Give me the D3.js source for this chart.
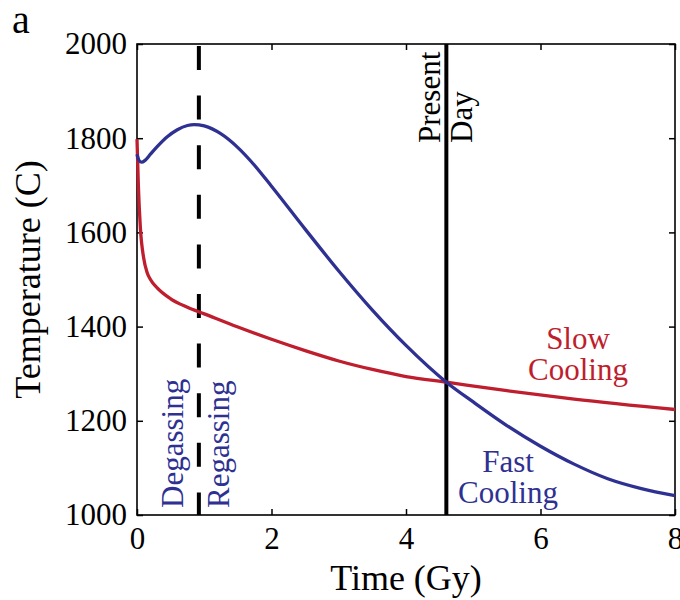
<!DOCTYPE html>
<html>
<head>
<meta charset="utf-8">
<script src="https://cdn.jsdelivr.net/npm/d3@7"></script>
<style>
  html, body { margin: 0; padding: 0; background: #fff; }
  svg { display: block; }
  text { font-family: "Liberation Serif", "Times New Roman", serif; }
</style>
</head>
<body>
<svg id="chart" width="680" height="600"></svg>
<script>
// Mantle temperature histories (time in Gy, temperature in C)
const fastTime = [0, 0.03, 0.07, 0.12, 0.2, 0.3, 0.45, 0.6, 0.75, 0.85, 1.0, 1.25, 1.5, 1.75, 2.0, 2.5, 3.0, 3.5, 4.0, 4.6, 5.0, 5.5, 6.0, 6.5, 7.0, 7.5, 8.0];
const fastTemp = [1766, 1753, 1749, 1753, 1766, 1782, 1803, 1818, 1827, 1829, 1826, 1809, 1780, 1742, 1698, 1607, 1518, 1435, 1360, 1282, 1240, 1190, 1146, 1108, 1077, 1056, 1041];

const slowTime = [0, 0.02, 0.05, 0.1, 0.15, 0.2, 0.3, 0.5, 0.75, 1.0, 1.5, 2.0, 2.5, 3.0, 3.5, 4.0, 4.6, 5.5, 6.5, 8.0];
const slowTemp = [1798, 1700, 1610, 1545, 1515, 1500, 1482, 1459, 1441, 1427, 1399, 1373, 1349, 1327, 1309, 1294, 1282, 1264, 1246, 1224];

const xTicks = [0, 2, 4, 6, 8];
const yTicks = [1000, 1200, 1400, 1600, 1800, 2000];

const regassingStart = 0.92;   // Gy
const presentDay = 4.6;        // Gy

const blue = "#2e3192";
const red = "#be1e2d";

const margin = { left: 137, right: 5, top: 44, bottom: 85 };
const W = 680, H = 600;
const svg = d3.select("#chart");

const x = d3.scaleLinear().domain([0, 8]).range([margin.left, W - margin.right]);
const y = d3.scaleLinear().domain([1000, 2000]).range([H - margin.bottom, margin.top]);

// axes with inward ticks on all four sides
const tickLen = 6;
const axStyle = g => {
  g.select(".domain").remove();
  g.selectAll(".tick line").attr("stroke", "#000").attr("stroke-width", 1.5);
  g.selectAll(".tick text").attr("font-size", 31).attr("fill", "#000")
    .style("font-family", "'Liberation Serif', serif");
};

svg.append("g")
  .attr("transform", `translate(0,${y(1000)})`)
  .call(d3.axisBottom(x).tickValues(xTicks).tickSize(-tickLen).tickPadding(12).tickFormat(d3.format("d")))
  .call(axStyle);
svg.append("g")
  .attr("transform", `translate(0,${y(2000)})`)
  .call(d3.axisTop(x).tickValues(xTicks).tickSize(-tickLen).tickFormat(""))
  .call(axStyle);
svg.append("g")
  .attr("transform", `translate(${x(0)},0)`)
  .call(d3.axisLeft(y).tickValues(yTicks).tickSize(-tickLen).tickPadding(10).tickFormat(d3.format("d")))
  .call(axStyle);
svg.append("g")
  .attr("transform", `translate(${x(8)},0)`)
  .call(d3.axisRight(y).tickValues(yTicks).tickSize(-tickLen).tickFormat(""))
  .call(axStyle);

// plot frame
svg.append("rect")
  .attr("x", x(0)).attr("y", y(2000))
  .attr("width", x(8) - x(0)).attr("height", y(1000) - y(2000))
  .attr("fill", "none").attr("stroke", "#000").attr("stroke-width", 1.6);

// event markers
svg.append("line")
  .attr("x1", x(regassingStart)).attr("x2", x(regassingStart))
  .attr("y1", y(2000)).attr("y2", y(1000))
  .attr("stroke", "#000").attr("stroke-width", 4)
  .attr("stroke-dasharray", "24,25.6").attr("stroke-dashoffset", -2);
svg.append("line")
  .attr("x1", x(presentDay)).attr("x2", x(presentDay))
  .attr("y1", y(2000)).attr("y2", y(1000))
  .attr("stroke", "#000").attr("stroke-width", 4);

// temperature curves
const line = d3.line().x(d => x(d[0])).y(d => y(d[1])).curve(d3.curveMonotoneX);
svg.append("path")
  .datum(slowTime.map((t, i) => [t, slowTemp[i]]))
  .attr("d", line).attr("fill", "none").attr("stroke", red).attr("stroke-width", 3.3);
svg.append("path")
  .datum(fastTime.map((t, i) => [t, fastTemp[i]]))
  .attr("d", line).attr("fill", "none").attr("stroke", blue).attr("stroke-width", 3.3);

// annotations
const vText = (px, py, txt, color) =>
  svg.append("text").attr("transform", `translate(${px},${py}) rotate(-90)`)
    .attr("font-size", 31).attr("fill", color).text(txt);
vText(440, 143, "Present", "#000");
vText(472, 143, "Day", "#000");
vText(183, 508, "Degassing", blue);
vText(229, 508, "Regassing", blue);

const block = (cx, base, lines, color) => {
  const t = svg.append("text").attr("x", cx).attr("y", base)
    .attr("text-anchor", "middle").attr("font-size", 31).attr("fill", color);
  lines.forEach((s, i) => t.append("tspan").attr("x", cx).attr("dy", i ? 31 : 0).text(s));
};
block(578, 349, ["Slow", "Cooling"], red);
block(508, 472, ["Fast", "Cooling"], blue);

// axis titles and panel letter
svg.append("text").attr("x", (x(0) + x(8)) / 2).attr("y", 590)
  .attr("text-anchor", "middle").attr("font-size", 36).text("Time (Gy)");
svg.append("text").attr("transform", `translate(40,${(y(1000) + y(2000)) / 2}) rotate(-90)`)
  .attr("text-anchor", "middle").attr("font-size", 36).text("Temperature (C)");
svg.append("text").attr("x", 12).attr("y", 33).attr("font-size", 40).text("a");
</script>
</body>
</html>
